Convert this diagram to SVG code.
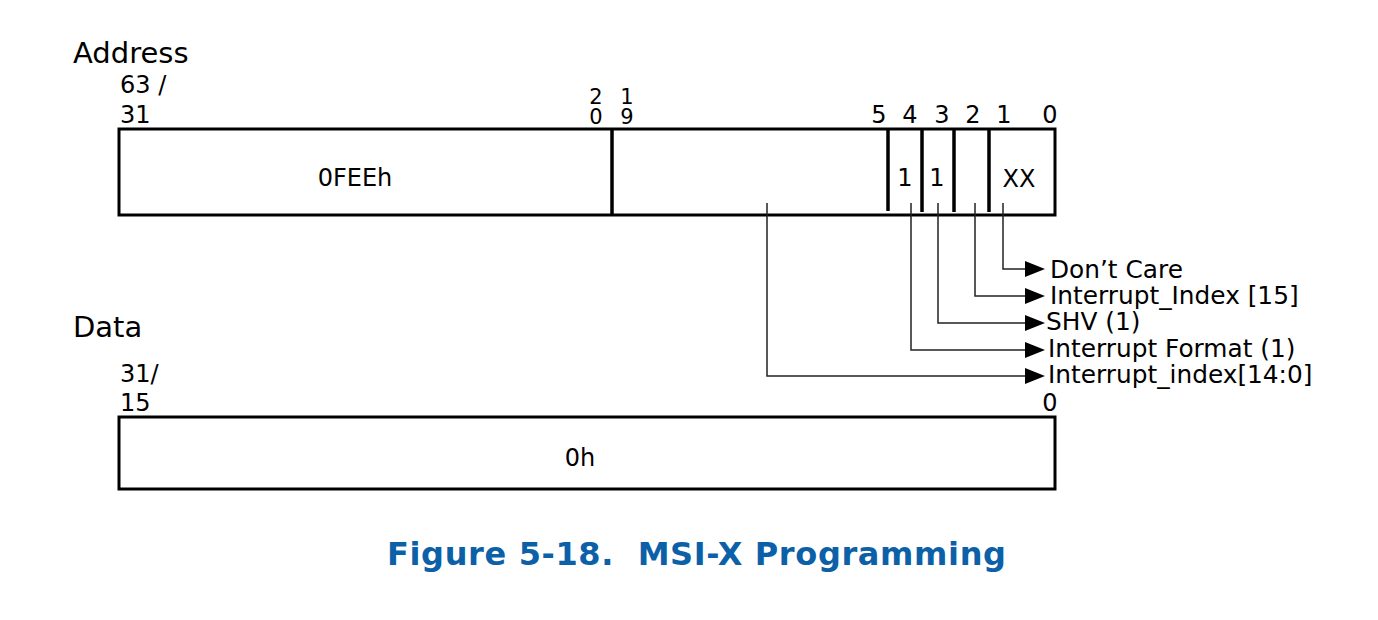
<svg xmlns="http://www.w3.org/2000/svg" width="1378" height="620" viewBox="0 0 1378 620">
<style>
text{font-family:"DejaVu Sans","Liberation Sans",sans-serif;fill:#000}
.hd{font-size:29px}
.n{font-size:24px}
.s{font-size:21px}
.lb{font-size:24.8px}
.box{fill:#fff;stroke:#000;stroke-width:3}
.div{stroke:#000;stroke-width:3.5}
.con{fill:none;stroke:#222;stroke-width:1.5}
.ah{fill:#000}
.title{font-family:"DejaVu Sans","Liberation Sans",sans-serif;font-weight:bold;font-size:32px;fill:#0b60a8}
</style>
<rect width="1378" height="620" fill="#fff"/>
<g id="address-label">
<text class="hd" x="73" y="63">Address</text>
<text class="n" x="120" y="93">63 /</text>
<text class="n" x="120" y="123">31</text>
<text class="s" x="596" y="104" text-anchor="middle">2</text>
<text class="s" x="596" y="124" text-anchor="middle">0</text>
<text class="s" x="627" y="104" text-anchor="middle">1</text>
<text class="s" x="627" y="124" text-anchor="middle">9</text>
<text class="n" x="879" y="123" text-anchor="middle">5</text>
<text class="n" x="910" y="123" text-anchor="middle">4</text>
<text class="n" x="942" y="123" text-anchor="middle">3</text>
<text class="n" x="973" y="123" text-anchor="middle">2</text>
<text class="n" x="1004" y="123" text-anchor="middle">1</text>
<text class="n" x="1050" y="123" text-anchor="middle">0</text>
</g>
<g id="address-register">
<rect class="box" x="119" y="129" width="936" height="86"/>
<line class="div" x1="612" y1="129" x2="612" y2="215"/>
<line class="div" x1="888" y1="129" x2="888" y2="211"/>
<line class="div" x1="922" y1="129" x2="922" y2="212"/>
<line class="div" x1="954" y1="129" x2="954" y2="212"/>
<line class="div" x1="989" y1="129" x2="989" y2="212"/>
<text class="n" x="355" y="186" text-anchor="middle">0FEEh</text>
<text class="n" x="905" y="186" text-anchor="middle">1</text>
<text class="n" x="937" y="186" text-anchor="middle">1</text>
<text class="n" x="1019" y="187" text-anchor="middle">XX</text>
</g>
<g id="connectors">
<polyline class="con" points="1003,203 1003,269 1026,269"/>
<polyline class="con" points="975,203 975,296 1026,296"/>
<polyline class="con" points="938,203 938,323 1026,323"/>
<polyline class="con" points="911,203 911,350 1026,350"/>
<polyline class="con" points="767,203 767,376 1026,376"/>
<polygon class="ah" points="1025,261 1045,269 1025,277"/>
<polygon class="ah" points="1025,288 1045,296 1025,304"/>
<polygon class="ah" points="1025,315 1045,323 1025,331"/>
<polygon class="ah" points="1025,342 1045,350 1025,358"/>
<polygon class="ah" points="1025,368 1045,376 1025,384"/>
</g>
<g id="labels">
<text class="lb" x="1050" y="278">Don’t Care</text>
<text class="lb" x="1050" y="304">Interrupt_Index [15]</text>
<text class="lb" x="1046" y="330">SHV (1)</text>
<text class="lb" x="1048" y="357">Interrupt Format (1)</text>
<text class="lb" x="1048" y="383">Interrupt_index[14:0]</text>
</g>
<g id="data-label">
<text class="hd" x="73" y="337">Data</text>
<text class="n" x="120" y="382">31/</text>
<text class="n" x="120" y="411">15</text>
<text class="n" x="1050" y="411" text-anchor="middle">0</text>
</g>
<g id="data-register">
<rect class="box" x="119" y="417" width="936" height="72"/>
<text class="n" x="580" y="466" text-anchor="middle">0h</text>
</g>
<g id="caption">
<text class="title" x="387" y="565" xml:space="preserve" textLength="619" lengthAdjust="spacing">Figure 5-18.  MSI-X Programming</text>
</g>
</svg>
